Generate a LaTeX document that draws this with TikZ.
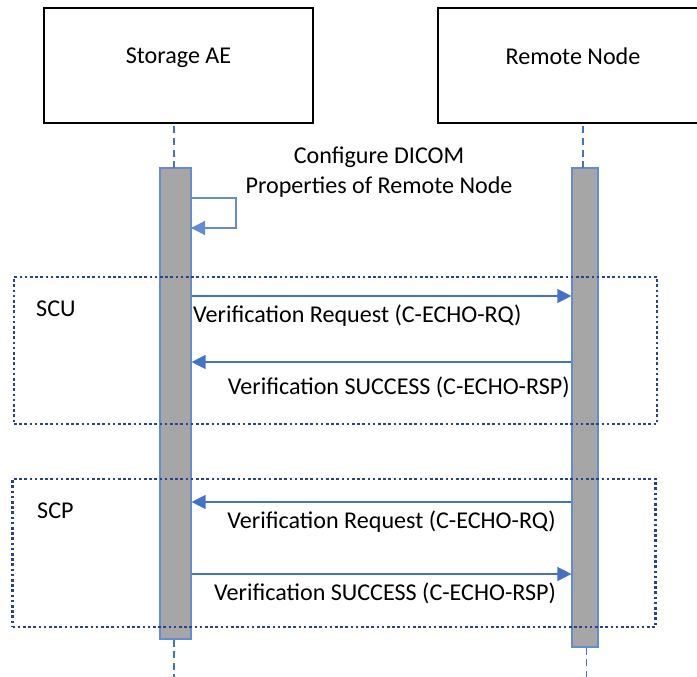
\documentclass[tikz,border=0pt]{standalone}
\usepackage{fontspec}
\setmainfont{Carlito}
\usetikzlibrary{arrows.meta}
\definecolor{arrowblue}{RGB}{68,114,196}
\definecolor{barborder}{RGB}{100,140,210}
\definecolor{bargray}{RGB}{166,166,166}
\definecolor{dotblue}{RGB}{38,68,135}
\tikzset{
  txt/.style={font=\fontsize{24.1}{28}\selectfont, inner sep=0pt},
  actor/.style={draw=black, line width=2pt, fill=white, minimum height=115pt, inner sep=0pt, font=\fontsize{24.1}{28}\selectfont},
  actbar/.style={draw=barborder, line width=1.2pt, fill=bargray, inner sep=0pt},
  lifeline/.style={draw=arrowblue, line width=1.8pt, dash pattern=on 7pt off 4.5pt},
  msg/.style={draw=arrowblue, line width=1.4pt, -{Triangle[length=14pt,width=14pt]}},
  selfmsg/.style={draw=barborder, line width=1.2pt, -{Triangle[length=14pt,width=14pt]}},
  frag/.style={draw=dotblue, line width=2.8pt, dash pattern=on 2.6pt off 2.6pt},
}
\begin{document}
\begin{tikzpicture}[x=1pt,y=-1pt]
\useasboundingbox (0,0) rectangle (697,677);
% actors
\node[actor, minimum width=269pt] (ae) at (178.5,65.5) {\raisebox{20pt}{Storage AE}};
\node[actor, minimum width=270pt] (rn) at (573,66) {\raisebox{20pt}{Remote Node}};
% activation bars
\node[actbar, minimum width=31pt, minimum height=471pt] (barL) at (175.5,403.5) {};
\node[actbar, minimum width=26pt, minimum height=479pt] (barR) at (585,407.5) {};
% lifelines
\coordinate (topL) at (174,168);
\coordinate (topR) at (583,168);
\coordinate (endL) at (174,677);
\coordinate (endR) at (586.5,677);
\draw[lifeline] (topL) -- (topL |- ae.south);
\draw[lifeline] (topR) -- (topR |- rn.south);
\draw[lifeline] (barL.south -| endL) -- (endL);
\draw[lifeline] (barR.south -| endR) -- (endR);
% self message
\coordinate (s1) at (191,198);
\coordinate (s2) at (236,198);
\coordinate (s3) at (236,228);
\coordinate (s4) at (191,228);
\draw[selfmsg] (s1) -- (s2) -- (s3) -- (s4);
\node[txt] (cfg1) at (379,157) {Configure DICOM};
\node[txt] (cfg2) at (379,187) {Properties of Remote Node};
% SCU fragment
\node[frag, minimum width=643pt, minimum height=147pt, inner sep=0pt] (scu) at (335.5,350.5) {};
\node[txt, anchor=west] (scul) at (36,309) {SCU};
\coordinate (a1) at (0,296);
\coordinate (a2) at (0,362);
\draw[msg] (barL.east |- a1) -- (barR.west |- a1);
\node[txt, anchor=west] (t1) at (193,316) {Verification Request (C-ECHO-RQ)};
\draw[msg] (barR.west |- a2) -- (barL.east |- a2);
\node[txt, anchor=east] (t2) at (570,387) {Verification SUCCESS (C-ECHO-RSP)};
% SCP fragment
\node[frag, minimum width=643pt, minimum height=148pt, inner sep=0pt] (scp) at (334,553) {};
\node[txt, anchor=west] (scpl) at (37,511) {SCP};
\coordinate (a3) at (0,502);
\coordinate (a4) at (0,574);
\draw[msg] (barR.west |- a3) -- (barL.east |- a3);
\node[txt, anchor=east] (t3) at (556,522) {Verification Request (C-ECHO-RQ)};
\draw[msg] (barL.east |- a4) -- (barR.west |- a4);
\node[txt, anchor=west] (t4) at (214,593) {Verification SUCCESS (C-ECHO-RSP)};
\end{tikzpicture}
\end{document}
